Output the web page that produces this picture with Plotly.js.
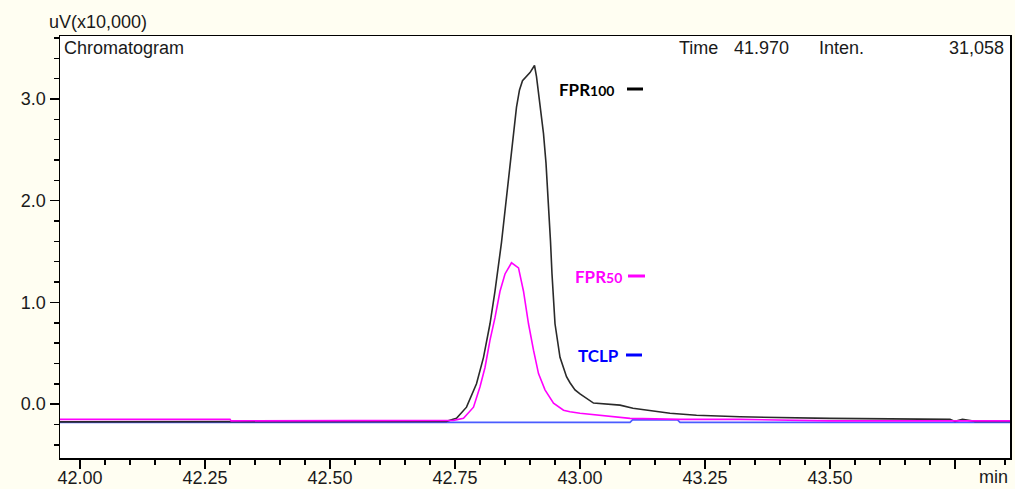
<!DOCTYPE html>
<html>
<head>
<meta charset="utf-8">
<script src="https://cdn.plot.ly/plotly-3.0.1.min.js"></script>
<style>
html,body{margin:0;padding:0;background:#fffef2;}
#chart{width:1015px;height:489px;}
</style>
</head>
<body>
<div id="chart"></div>
<script>
// FPR100 (black)
var timeFPR100 = [41.96, 42.50, 42.70, 42.72, 42.733, 42.753, 42.773, 42.793, 42.807, 42.82, 42.83, 42.843, 42.853, 42.86, 42.867, 42.873, 42.879, 42.885, 42.90, 42.909, 42.913, 42.92, 42.927, 42.932, 42.937, 42.941, 42.944, 42.95, 42.96, 42.973, 42.98, 42.99, 43.0, 43.027, 43.08, 43.106, 43.18, 43.233, 43.32, 43.50, 43.74, 43.75, 43.765, 43.79, 43.86];
var valFPR100  = [-0.175, -0.175, -0.175, -0.175, -0.17, -0.14, -0.03, 0.20, 0.46, 0.79, 1.11, 1.59, 2.04, 2.37, 2.66, 2.92, 3.09, 3.18, 3.26, 3.33, 3.22, 2.92, 2.66, 2.37, 1.98, 1.60, 1.28, 0.79, 0.46, 0.27, 0.21, 0.14, 0.10, 0.01, -0.01, -0.04, -0.09, -0.11, -0.125, -0.14, -0.15, -0.17, -0.15, -0.17, -0.17];

// FPR50 (magenta)
var timeFPR50 = [41.96, 42.30, 42.302, 42.74, 42.747, 42.767, 42.787, 42.80, 42.81, 42.82, 42.83, 42.84, 42.85, 42.863, 42.877, 42.887, 42.897, 42.907, 42.917, 42.93, 42.947, 42.967, 42.98, 43.0, 43.047, 43.10, 43.20, 43.32, 43.50, 43.86];
var valFPR50  = [-0.15, -0.15, -0.165, -0.165, -0.16, -0.14, -0.03, 0.17, 0.36, 0.63, 0.85, 1.11, 1.28, 1.39, 1.34, 1.11, 0.79, 0.53, 0.30, 0.14, 0.01, -0.06, -0.075, -0.09, -0.117, -0.14, -0.15, -0.15, -0.165, -0.165];

// TCLP (blue)
var timeTCLP = [41.96, 43.10, 43.105, 43.195, 43.20, 43.86];
var valTCLP  = [-0.18, -0.18, -0.155, -0.155, -0.18, -0.18];

var xTickVals = [42.00, 42.25, 42.50, 42.75, 43.00, 43.25, 43.50, 43.75];
var xTickText = ["42.00", "42.25", "42.50", "42.75", "43.00", "43.25", "43.50", ""];

var seriesNames = ["TCLP", "FPR100", "FPR50"];

var traces = [
  {x: timeTCLP, y: valTCLP, type: 'scatter', mode: 'lines', name: seriesNames[0],
   line: {color: '#4a5cff', width: 1.6}},
  {x: timeFPR100, y: valFPR100, type: 'scatter', mode: 'lines', name: seriesNames[1],
   line: {color: '#2a2a2a', width: 1.6}},
  {x: timeFPR50, y: valFPR50, type: 'scatter', mode: 'lines', name: seriesNames[2],
   line: {color: '#ff00ff', width: 1.6}}
];

var W = 950, H = 422, L = 60, T = 36;
function px(x){ return (x - L) / W; }
function py(y){ return (T + H - y) / H; }

var baseFont = {family: '"Liberation Sans", Arial, sans-serif', size: 18, color: '#1a1a1a'};
var lblFont = '"Lato", "Open Sans", sans-serif';

function txt(text, x, y, anchor, font){
  return {text: text, xref: 'paper', yref: 'paper', x: px(x), y: py(y),
          xanchor: anchor, yanchor: 'middle', showarrow: false, font: font || baseFont};
}

var annotations = [
  txt('uV(x10,000)', 47, 22, 'left'),
  txt('Chromatogram', 62, 48, 'left'),
  txt('Time', 677, 48, 'left'),
  txt('41.970', 732, 48, 'left'),
  txt('Inten.', 817, 48, 'left'),
  txt('31,058', 1006, 48, 'right'),
  txt('min', 993, 477, 'center'),
  txt('<b>FPR<span style="font-size:14px">100</span></b>', 557, 89, 'left', {family: lblFont, size: 17, color: '#000000'}),
  txt('<b>FPR<span style="font-size:14px">50</span></b>', 573, 276, 'left', {family: lblFont, size: 17, color: '#ff00ff'}),
  txt('<b>TCLP</b>', 576, 355, 'left', {family: lblFont, size: 17, color: '#0000ff'})
];

function dash(x0, x1, y, color){
  return {type: 'line', xref: 'paper', yref: 'paper', x0: px(x0), x1: px(x1), y0: py(y), y1: py(y),
          line: {color: color, width: 3}};
}

var layout = {
  width: 1015, height: 489,
  margin: {l: L, r: 1015 - L - W, t: T, b: 489 - T - H, pad: 0},
  paper_bgcolor: '#fffef2',
  plot_bgcolor: '#ffffff',
  showlegend: false,
  xaxis: {
    range: [41.96, 43.86],
    tickvals: xTickVals, ticktext: xTickText,
    ticks: 'outside', ticklen: 9, tickwidth: 1.5, tickcolor: '#000',
    ticklabelstandoff: -6,
    minor: {dtick: 0.05, tick0: 42, ticks: 'outside', ticklen: 5, tickwidth: 1.5, tickcolor: '#000'},
    showline: true, linecolor: '#000', linewidth: 1.5, mirror: true,
    showgrid: false, zeroline: false,
    tickfont: baseFont
  },
  yaxis: {
    range: [-0.53, 3.62],
    tick0: 0, dtick: 1, tickformat: '.1f',
    ticks: 'outside', ticklen: 9, tickwidth: 1.5, tickcolor: '#000',
    minor: {dtick: 0.2, tick0: 0, ticks: 'outside', ticklen: 5, tickwidth: 1.5, tickcolor: '#000'},
    showline: true, linecolor: '#000', linewidth: 1.5, mirror: true,
    showgrid: false, zeroline: false,
    tickfont: baseFont
  },
  annotations: annotations,
  shapes: [
    dash(627, 643, 89, '#000000'),
    dash(628, 645, 276, '#ff00ff'),
    dash(626, 642, 355, '#0000ff')
  ]
};

Plotly.newPlot('chart', traces, layout, {displayModeBar: false, staticPlot: true});
</script>
</body>
</html>
